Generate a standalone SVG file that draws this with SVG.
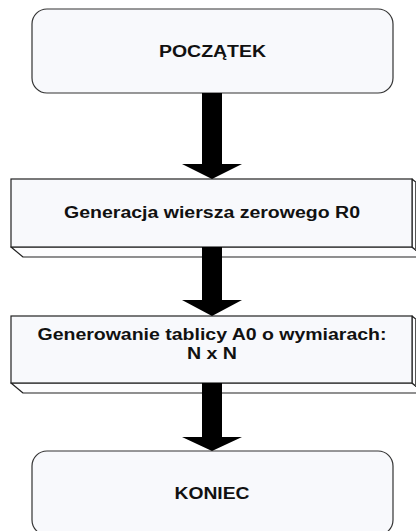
<svg xmlns="http://www.w3.org/2000/svg" width="416" height="531" viewBox="0 0 416 531">
<style>
.term{fill:#f8f9fc;stroke:#333;stroke-width:1.2}
.front{fill:#f8f9fc;stroke:#222;stroke-width:1.2}
.side{fill:#fdfdfe;stroke:#222;stroke-width:1.2;stroke-linejoin:round}
.lbl{font-family:"Liberation Sans",Arial,sans-serif;font-weight:bold;font-size:16px;fill:#111;text-anchor:middle}
.arr{fill:#000}
</style>
<rect width="416" height="531" fill="#fff"/>
<g id="start">
<rect class="term" x="32" y="9" width="361" height="84" rx="15" ry="15"/>
<text class="lbl" x="212.5" y="57" textLength="107" lengthAdjust="spacingAndGlyphs">POCZĄTEK</text>
</g>
<g id="gen-r0">
<polygon class="side" points="11,247 412,247 424,257 23,257"/>
<polygon class="side" points="412,179 424,189 424,257 412,247"/>
<line x1="415.5" y1="182" x2="415.5" y2="250" stroke="#555" stroke-width="1"/>
<rect class="front" x="11" y="179" width="401" height="68"/>
<text class="lbl" x="212" y="217.5" textLength="296" lengthAdjust="spacingAndGlyphs">Generacja wiersza zerowego R0</text>
</g>
<g id="gen-a0">
<polygon class="side" points="11,383 412,383 424,393 23,393"/>
<polygon class="side" points="412,316 424,326 424,393 412,383"/>
<line x1="415.5" y1="319" x2="415.5" y2="386" stroke="#555" stroke-width="1"/>
<rect class="front" x="11" y="316" width="401" height="67"/>
<text class="lbl" x="212" y="340" textLength="349" lengthAdjust="spacingAndGlyphs">Generowanie tablicy A0 o wymiarach:</text>
<text class="lbl" x="212" y="359" textLength="50" lengthAdjust="spacingAndGlyphs">N x N</text>
</g>
<g id="end">
<rect class="term" x="32" y="451" width="361" height="84" rx="15" ry="15"/>
<text class="lbl" x="212" y="498.5" textLength="75" lengthAdjust="spacingAndGlyphs">KONIEC</text>
</g>
<g id="connectors">
<polygon class="arr" points="202,93 222,93 222,164 242,164 212,179 182,164 202,164"/>
<polygon class="arr" points="202,247 222,247 222,300 242,300 212,316 182,300 202,300"/>
<polygon class="arr" points="202,383 222,383 222,437 242,437 212,451 182,437 202,437"/>
</g>
</svg>
